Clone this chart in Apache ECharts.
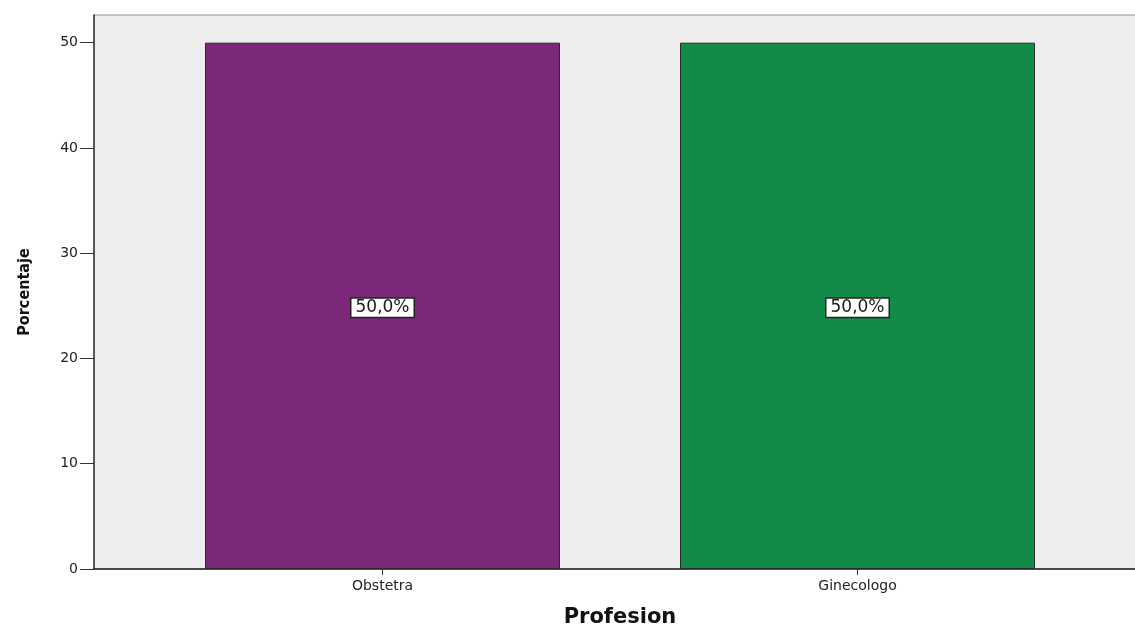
<!DOCTYPE html>
<html>
<head>
<meta charset="utf-8">
<script src="https://cdn.jsdelivr.net/npm/echarts@6/dist/echarts.min.js"></script>
<style>
  html, body { margin: 0; padding: 0; background: #ffffff; }
  #chart { width: 1135px; height: 625px; }
</style>
</head>
<body>
<div id="chart"></div>
<script>
// Profession distribution (percent of respondents)
const categories = ['Obstetra', 'Ginecologo'];
const percentages = [50, 50];
const barColors = ['#7B2878', '#128A48'];
const yTicks = [0, 10, 20, 30, 40, 50];
const yMax = 52.63;

const chart = echarts.init(document.getElementById('chart'));

chart.setOption({
  animation: false,
  backgroundColor: '#ffffff',
  grid: [
    // frame / plot background with the value axis
    { left: 94, top: 15, right: -11, bottom: 56, show: true, outerBoundsMode: 'none',
      backgroundColor: '#EEEEEE', borderColor: '#8C8C8C', borderWidth: 1 },
    // bar area with the category axis
    { left: 145, top: 15, right: 40, bottom: 56, outerBoundsMode: 'none' }
  ],
  xAxis: [
    { gridIndex: 0, type: 'value', min: 0, max: 1,
      axisLine: { show: true, lineStyle: { color: '#222', width: 1.5 } },
      axisTick: { show: false }, axisLabel: { show: false }, splitLine: { show: false } },
    { gridIndex: 1, type: 'category', data: categories,
      name: 'Profesion', nameLocation: 'middle', nameGap: 38,
      nameTextStyle: { fontFamily: 'DejaVu Sans', fontWeight: 'bold', fontSize: 21, color: '#111' },
      axisLine: { show: false },
      axisTick: { show: true, alignWithLabel: true, length: 6, lineStyle: { color: '#333' } },
      axisLabel: { fontFamily: 'DejaVu Sans', fontSize: 14, color: '#222', margin: 10 },
      splitLine: { show: false } }
  ],
  yAxis: [
    { gridIndex: 0, type: 'value', min: 0, max: yMax,
      name: 'Porcentaje', nameLocation: 'middle', nameGap: 61, nameRotate: 90,
      nameTextStyle: { fontFamily: 'DejaVu Sans Condensed, Liberation Sans, sans-serif', fontWeight: 'bold', fontSize: 16, color: '#111' },
      axisLine: { show: true, lineStyle: { color: '#333', width: 1.5 } },
      axisTick: { show: true, length: 14, customValues: yTicks, lineStyle: { color: '#333' } },
      axisLabel: { customValues: yTicks, fontFamily: 'DejaVu Sans', fontSize: 14, color: '#222', margin: 16 },
      splitLine: { show: false } },
    { gridIndex: 1, type: 'value', min: 0, max: yMax, show: false }
  ],
  series: [{
    type: 'bar',
    xAxisIndex: 1,
    yAxisIndex: 1,
    barWidth: 355,
    data: percentages.map((v, i) => ({ value: v, itemStyle: { color: barColors[i] } })),
    itemStyle: { borderColor: '#2a2a2a', borderWidth: 1 },
    label: {
      show: true,
      position: 'inside',
      offset: [0, 2],
      formatter: p => p.value.toFixed(1).replace('.', ',') + '%',
      fontFamily: 'DejaVu Sans',
      fontSize: 17,
      color: '#1a1a1a',
      backgroundColor: '#ffffff',
      borderColor: '#222',
      borderWidth: 1.5,
      padding: [1, 4, 0, 4]
    }
  }]
});
</script>
</body>
</html>
